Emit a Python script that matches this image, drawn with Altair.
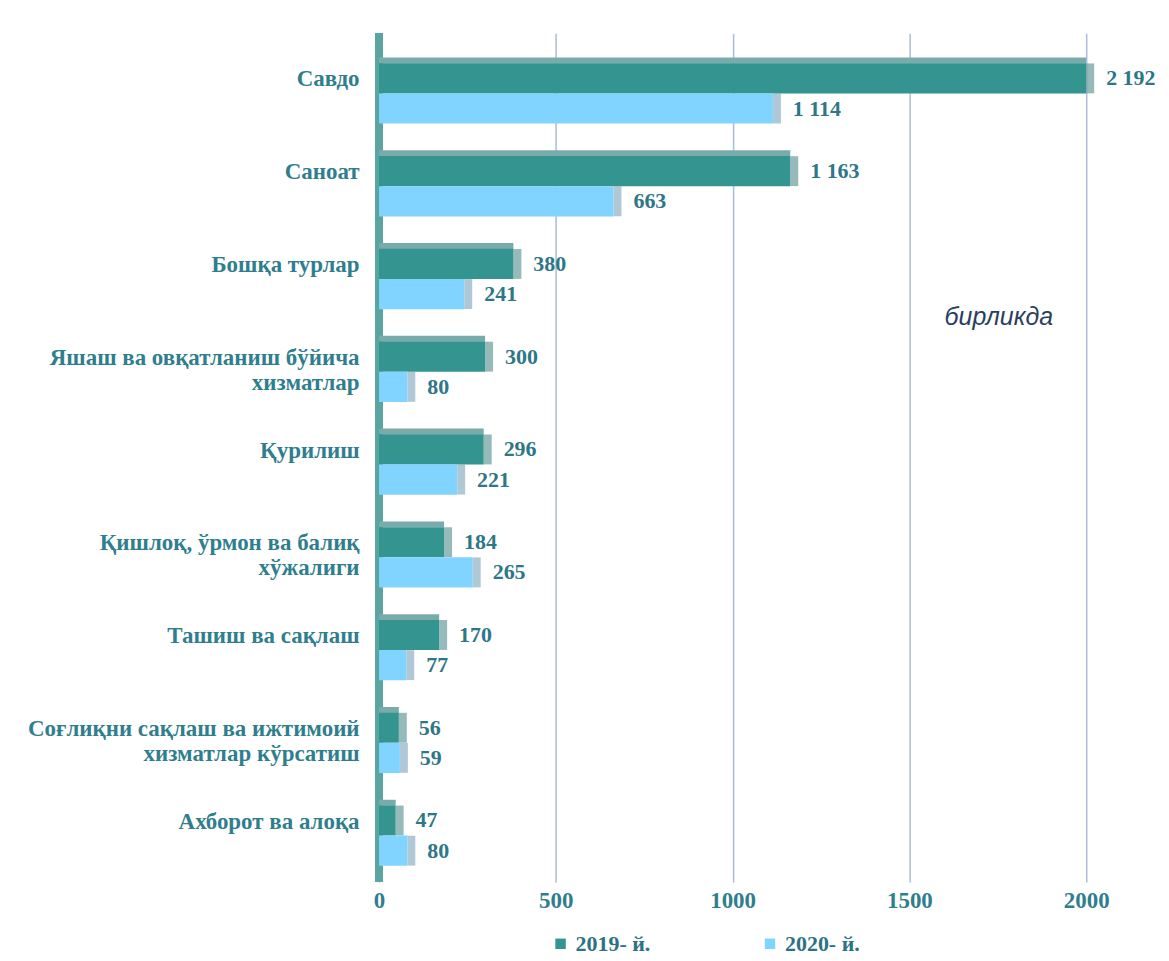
import altair as alt
import pandas as pd

categories = [
    "Савдо",
    "Саноат",
    "Бошқа турлар",
    "Яшаш ва овқатланиш бўйича|хизматлар",
    "Қурилиш",
    "Қишлоқ, ўрмон ва балиқ|хўжалиги",
    "Ташиш ва сақлаш",
    "Соғлиқни сақлаш ва ижтимоий|хизматлар кўрсатиш",
    "Ахборот ва алоқа",
]
v2019 = [2192, 1163, 380, 300, 296, 184, 170, 56, 47]
v2020 = [1114, 663, 241, 80, 221, 265, 77, 59, 80]
years = ["2019- й.", "2020- й."]
x_ticks = [0, 500, 1000, 1500, 2000]

def fmt(v):
    return f"{v:,}".replace(",", " ")

rows = []
for c, a, b in zip(categories, v2019, v2020):
    rows.append(dict(cat=c, year=years[0], value=a, label=fmt(a)))
    rows.append(dict(cat=c, year=years[1], value=b, label=fmt(b)))
df = pd.DataFrame(rows)

SERIF = "Liberation Serif"
TXT = "#2F7E8D"

xscale = alt.Scale(domain=[0, 2000], clamp=True, nice=False, zero=True)
yscale = alt.Scale(paddingInner=0.35, paddingOuter=0.25, align=0.65)

x_axis = alt.Axis(
    values=x_ticks, format="d", grid=True, gridColor="#A9BCD9", gridWidth=1.5,
    domain=False, ticks=False, labelFont=SERIF, labelFontWeight="bold",
    labelFontSize=23, labelColor=TXT, labelPadding=8, labelFlush=False,
    title=None,
)
y_axis = alt.Axis(
    labelFont=SERIF, labelFontWeight="bold", labelFontSize=23,
    labelColor=TXT, labelAlign="right", labelBaseline="middle",
    labelPadding=20, labelOffset=-14, labelLineHeight=25, labelLimit=400,
    ticks=False, domain=False, minExtent=367, maxExtent=367, title=None,
    labelExpr="split(datum.label, '|')",
)

base = alt.Chart(df)
X = alt.X("value:Q", scale=xscale, axis=x_axis)
Y = alt.Y("cat:N", sort=categories, scale=yscale, axis=y_axis)
YO = alt.YOffset("year:N", sort=years)

bars = base.mark_bar(clip=True).encode(
    x=X, y=Y, yOffset=YO,
    color=alt.Color(
        "year:N",
        scale=alt.Scale(domain=years, range=["#339490", "#80D4FF"]),
        legend=alt.Legend(
            orient="none", legendX=171, legendY=902, direction="horizontal",
            symbolType="square", symbolSize=110, symbolStrokeWidth=0,
            labelFont=SERIF, labelFontWeight="bold", labelFontSize=22,
            labelColor="#2B7383", columnPadding=108, title=None,
        ),
    ),
)

# 3D top face of the 2019 bars (sits just above the front face)
top_face = base.transform_filter(alt.datum.year == years[0]).transform_calculate(
    zero="0"
).mark_rule(strokeWidth=6, color="#78ABAA", yOffset=-33, clip=True).encode(
    x=alt.X("zero:Q", scale=xscale, axis=x_axis), x2="value:Q", y=Y,
)

# 3D right side faces
side_face = base.mark_tick(thickness=8, size=30, xOffset=4).encode(
    x=X, y=Y, yOffset=YO,
    color=alt.Color(
        "year:N",
        scale=alt.Scale(domain=years, range=["#6A9C9D", "#8FB0C4"]),
        legend=None,
    ),
)

wall = base.transform_calculate(zero="0").mark_rule(
    color="#5BA5A1", strokeWidth=7, opacity=0.7
).encode(x=alt.X("zero:Q", scale=xscale, axis=x_axis))

texts = base.mark_text(
    align="left", baseline="middle", dx=20, font=SERIF, fontWeight="bold",
    fontSize=22, color="#2D7787",
).encode(x=X, y=Y, yOffset=YO, text="label:N")

note = alt.Chart(pd.DataFrame({"t": ["бирликда"]})).mark_text(
    align="left", baseline="middle", font="Liberation Sans",
    fontStyle="italic", fontSize=25, color="#2A3F5E",
).encode(x=alt.value(567), y=alt.value(285), text="t:N")

chart = alt.layer(wall, side_face, top_face, bars, texts, note).properties(
    width=709, height=851,
    padding={"top": 20, "left": 5, "right": 5, "bottom": 0},
).resolve_scale(color="independent").configure_view(stroke=None)

chart.save("out.html", embed_options={"renderer": "svg", "actions": False})
